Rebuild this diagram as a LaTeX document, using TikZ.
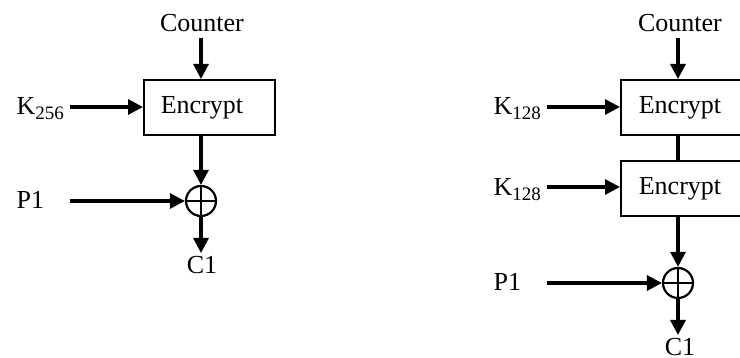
\documentclass[tikz,border=0pt]{standalone}
\usepackage{fontspec}
\setmainfont{Liberation Serif}
\usetikzlibrary{arrows.meta}
\newcommand{\ksub}[1]{K\raisebox{-0.35ex}{\fontsize{19}{20}\selectfont #1}}
\begin{document}
\begin{tikzpicture}[x=1pt,y=-1pt, line width=3.2pt, font=\fontsize{26}{30}\selectfont,
  arr/.style={-{Triangle[length=15pt,width=15pt]}},
  encbox/.style={draw, line width=2.2pt, minimum width=131pt, minimum height=55pt, inner sep=0pt, anchor=north west},
  xorc/.style={circle, draw, line width=2.2pt, minimum size=30pt, inner sep=0pt,
    path picture={\draw[line width=2.2pt] (path picture bounding box.north) -- (path picture bounding box.south)
      (path picture bounding box.west) -- (path picture bounding box.east);}},
  lbl/.style={inner sep=0pt}]
\useasboundingbox (0,0) rectangle (740,358);
% left diagram
\node[lbl, anchor=base] (cntA) at (202,32) {Counter};
\node[encbox] (encA) at (143,79) {};
\node[lbl, anchor=base] (encAt) at (202,114) {Encrypt};
\node[lbl, anchor=base west] (kA) at (15,115) {\ksub{256}};
\node[lbl, anchor=base west] (pA) at (15,209) {P1};
\node[xorc] (xA) at (201,201) {};
\node[lbl, anchor=base] (cA) at (202,274) {C1};
\coordinate (cntAb) at (201,38);
\coordinate (kAs) at (70,107);
\coordinate (pAs) at (70,201);
\coordinate (cAt) at (201,253);
\draw[arr] (cntAb) -- (cntAb |- encA.north);
\draw[arr] (kAs) -- (kAs -| encA.west);
\draw[arr] (cntAb |- encA.south) -- (xA.north);
\draw[arr] (pAs) -- (xA.west);
\draw[arr] (xA.south) -- (cAt);
% right diagram
\node[lbl, anchor=base] (cntB) at (680,32) {Counter};
\node[encbox] (encB1) at (620,79) {};
\node[lbl, anchor=base] (encB1t) at (680,114) {Encrypt};
\node[encbox] (encB2) at (620,160) {};
\node[lbl, anchor=base] (encB2t) at (680,195) {Encrypt};
\node[lbl, anchor=base west] (kB1) at (492,115) {\ksub{128}};
\node[lbl, anchor=base west] (kB2) at (492,196) {\ksub{128}};
\node[lbl, anchor=base west] (pB) at (492,291) {P1};
\node[xorc] (xB) at (678,283) {};
\node[lbl, anchor=base] (cB) at (680,356) {C1};
\coordinate (cntBb) at (678,38);
\coordinate (kB1s) at (547,107);
\coordinate (kB2s) at (547,187);
\coordinate (pBs) at (547,283);
\coordinate (cBt) at (678,335);
\draw[arr] (cntBb) -- (cntBb |- encB1.north);
\draw[arr] (kB1s) -- (kB1s -| encB1.west);
\draw (cntBb |- encB1.south) -- (cntBb |- encB2.north);
\draw[arr] (kB2s) -- (kB2s -| encB2.west);
\draw[arr] (cntBb |- encB2.south) -- (xB.north);
\draw[arr] (pBs) -- (xB.west);
\draw[arr] (xB.south) -- (cBt);
\end{tikzpicture}
\end{document}
